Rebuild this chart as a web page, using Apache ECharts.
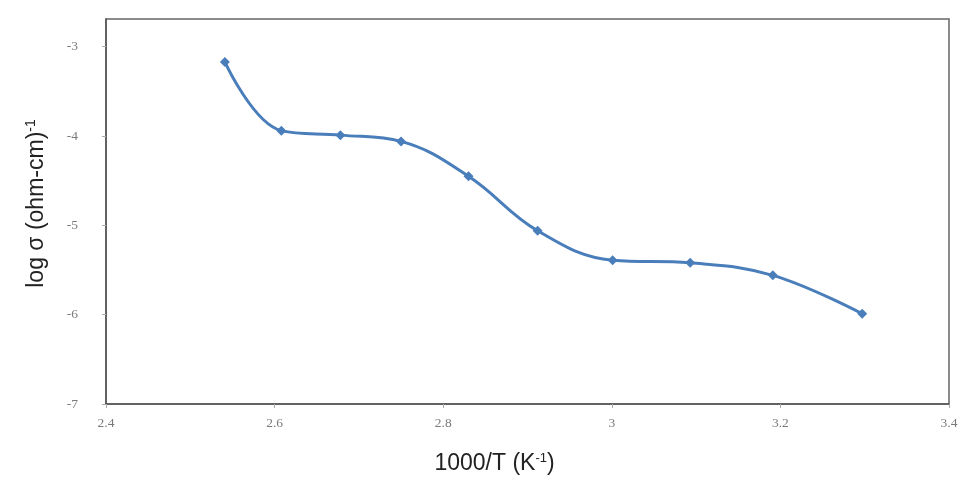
<!DOCTYPE html>
<html>
<head>
<meta charset="utf-8">
<script src="https://cdn.jsdelivr.net/npm/echarts@6/dist/echarts.min.js"></script>
<style>
  html, body { margin: 0; padding: 0; background: #fff; }
  #chart { width: 977px; height: 498px; }
</style>
</head>
<body>
<div id="chart"></div>
<script>
// values
const invTemp = [2.541, 2.608, 2.678, 2.750, 2.830, 2.912, 3.001, 3.093, 3.191, 3.297]
const logSigma = [-3.17, -3.94, -3.99, -4.06, -4.45, -5.06, -5.39, -5.42, -5.56, -5.99]

const xTicks = { min: 2.4, max: 3.4, step: 0.2 }
const yTicks = { min: -7, max: -2.69, step: 1 }

const points = invTemp.map((x, i) => [x, logSigma[i]])

const chart = echarts.init(document.getElementById('chart'))

const tickFont = { color: '#7a7a7a', fontFamily: 'Liberation Serif', fontSize: 13.5 }

chart.setOption({
  animation: false,
  backgroundColor: '#fff',
  grid: {
    left: 106, right: 28, top: 19, bottom: 94,
    show: true, borderColor: '#666', borderWidth: 1.5
  },
  xAxis: {
    type: 'value',
    min: xTicks.min, max: xTicks.max, interval: xTicks.step,
    splitLine: { show: false },
    axisLine: { lineStyle: { color: '#555', width: 1.5 } },
    axisTick: { show: true, length: 4, lineStyle: { color: '#aaa' } },
    axisLabel: Object.assign({ margin: 12 }, tickFont),
    name: '{b|1000/T (K}{s|-1}{b|)}',
    nameLocation: 'middle',
    nameGap: 48,
    nameTextStyle: {
      padding: [0, 66, 0, 0],
      rich: {
        b: { fontFamily: 'Liberation Sans', fontSize: 23, color: '#222' },
        s: { fontFamily: 'Liberation Sans', fontSize: 13, color: '#222', verticalAlign: 'top', padding: [0, 0, 10, 0] }
      }
    }
  },
  yAxis: {
    type: 'value',
    min: yTicks.min, max: yTicks.max, interval: yTicks.step,
    splitLine: { show: false },
    axisLine: { show: true, lineStyle: { color: '#555', width: 1.5 } },
    axisTick: { show: true, length: 4, lineStyle: { color: '#aaa' } },
    axisLabel: Object.assign({ margin: 28, showMaxLabel: false }, tickFont),
    name: '{b|log σ (ohm-cm)}{s|-1}',
    nameLocation: 'middle',
    nameRotate: 90,
    nameGap: 56,
    nameTextStyle: {
      padding: [0, 0, 0, 16],
      rich: {
        b: { fontFamily: 'Liberation Sans', fontSize: 23, color: '#222' },
        s: { fontFamily: 'Liberation Sans', fontSize: 14, color: '#222', verticalAlign: 'top', padding: [0, 0, 12, 0] }
      }
    }
  },
  series: [{
    type: 'line',
    data: points,
    smooth: 0.4,
    symbol: 'diamond',
    symbolSize: 10,
    lineStyle: { color: '#4a7ebb', width: 3 },
    itemStyle: { color: '#4a7ebb' }
  }]
})
</script>
</body>
</html>
